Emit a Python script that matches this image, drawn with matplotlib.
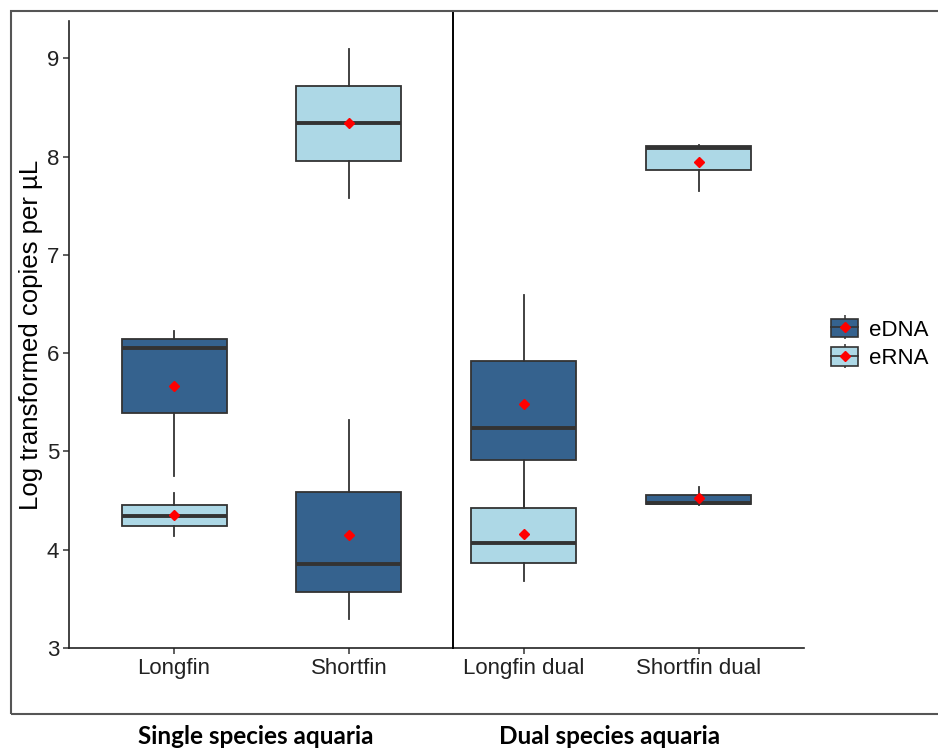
import matplotlib
matplotlib.use("Agg")
from matplotlib import pyplot as plt
from matplotlib.patches import Rectangle, Patch
from matplotlib.lines import Line2D

plt.rcParams["font.family"] = ["Liberation Sans", "DejaVu Sans"]

# Groups on the x axis
groups = ["Longfin", "Shortfin", "Longfin dual", "Shortfin dual"]

# eDNA box summaries (log copies per uL)
edna_whislo = [4.75, 3.30, 4.30, 4.46]
edna_q1 = [5.39, 3.57, 4.91, 4.47]
edna_med = [6.05, 3.85, 5.235, 4.475]
edna_q3 = [6.14, 4.59, 5.92, 4.56]
edna_whishi = [6.225, 5.32, 6.59, 4.64]
edna_mean = [5.67, 4.15, 5.48, 4.53]

# eRNA box summaries
erna_whislo = [4.14, 7.58, 3.68, 7.65]
erna_q1 = [4.24, 7.96, 3.87, 7.86]
erna_med = [4.34, 8.34, 4.07, 8.09]
erna_q3 = [4.46, 8.72, 4.42, 8.11]
erna_whishi = [4.58, 9.09, 4.60, 8.12]
erna_mean = [4.35, 8.34, 4.165, 7.95]

dark = "#35628e"
light = "#add8e6"
edge = "#333333"

fig = plt.figure(figsize=(9.38, 7.49), dpi=100)
ax = fig.add_axes([0.0736, 0.1348, 0.7834, 0.8372])

pos = list(range(1, len(groups) + 1))


def make_stats(lo, q1, med, q3, hi):
    return [dict(whislo=a, q1=b, med=c, q3=d, whishi=e, fliers=[])
            for a, b, c, d, e in zip(lo, q1, med, q3, hi)]


def draw(stats, color):
    ax.bxp(stats, positions=pos, widths=0.6, patch_artist=True,
           showcaps=False, showfliers=False,
           boxprops=dict(facecolor=color, edgecolor=edge, linewidth=1.3),
           medianprops=dict(color=edge, linewidth=2.8),
           whiskerprops=dict(color=edge, linewidth=1.3))


draw(make_stats(edna_whislo, edna_q1, edna_med, edna_q3, edna_whishi), dark)
draw(make_stats(erna_whislo, erna_q1, erna_med, erna_q3, erna_whishi), light)

ax.plot(pos, edna_mean, linestyle="none", marker="D", color="red",
        markersize=5.5, zorder=5)
ax.plot(pos, erna_mean, linestyle="none", marker="D", color="red",
        markersize=5.5, zorder=5)

ax.set_xlim(0.4, 4.6)
ax.set_ylim(3, 9.38)
ax.set_xticks(pos)
ax.set_xticklabels(groups)
ax.set_yticks([3, 4, 5, 6, 7, 8, 9])
ax.tick_params(labelsize=16, colors="#333333", length=4, width=1.1,
               labelcolor="#222222", pad=3)
for side in ["top", "right"]:
    ax.spines[side].set_visible(False)
for side in ["left", "bottom"]:
    ax.spines[side].set_linewidth(1.2)
    ax.spines[side].set_color("#222222")
ax.set_ylabel("Log transformed copies per µL", fontsize=18.5)
ax.yaxis.set_label_coords(-0.035, 0.5)

# separator between single and dual species aquaria
ax.plot([2.594, 2.594], [3, 9.48], color="black", linewidth=1.4,
        clip_on=False, zorder=6)


# legend keys: mini boxplot glyph with the red mean diamond
def key(color):
    return (Line2D([], [], color=edge, marker="|", markersize=17,
                   markeredgewidth=1.1, linestyle="none"),
            Patch(facecolor=color, edgecolor=edge, linewidth=1.2),
            Line2D([], [], color=edge, linewidth=1.2),
            Line2D([], [], color="red", marker="D", linestyle="none",
                   markersize=5))


ax.legend([key(dark), key(light)], ["eDNA", "eRNA"], loc="center left",
          bbox_to_anchor=(1.01, 0.485), frameon=False, fontsize=16,
          handlelength=1.2, handleheight=0.9, handletextpad=0.5,
          labelspacing=0.3)

# outer frame around the plot panel
fig.patches.append(Rectangle((11 / 938, 35 / 749), 1.0, 703 / 749,
                             transform=fig.transFigure, fill=False,
                             edgecolor="#555555", linewidth=1.5))

fig.text(256 / 938, 12 / 749, "Single species aquaria", ha="center",
         va="center", fontsize=17.5, fontweight="bold", family="Lato")
fig.text(610 / 938, 12 / 749, "Dual species aquaria", ha="center",
         va="center", fontsize=17.5, fontweight="bold", family="Lato")

fig.savefig("out.png", dpi=100)
